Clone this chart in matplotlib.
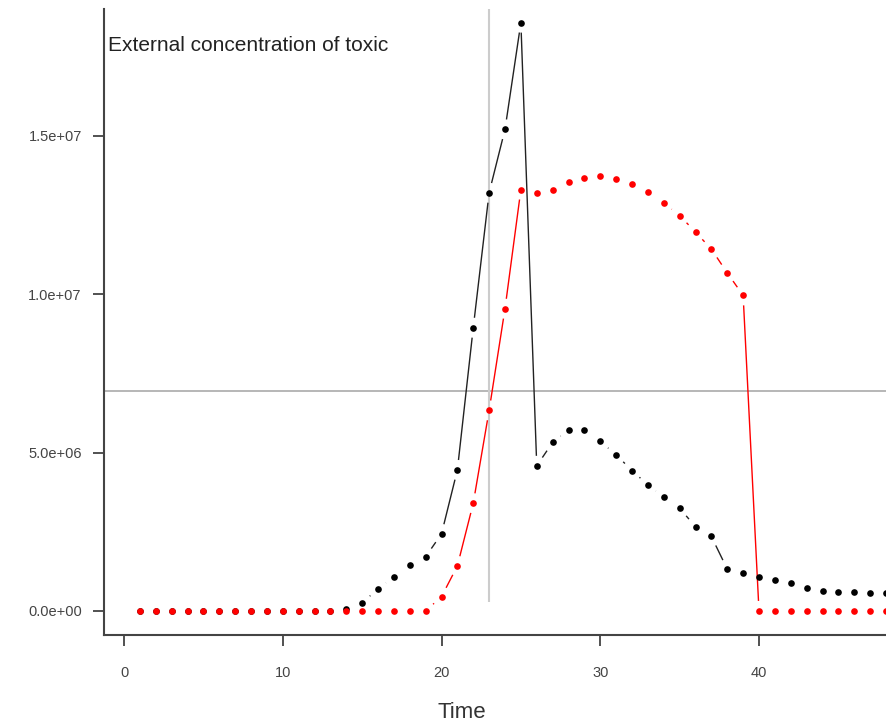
import matplotlib
matplotlib.use('Agg')
import matplotlib.pyplot as plt
import numpy as np
from matplotlib.collections import LineCollection

plt.rcParams['font.family'] = ['Liberation Sans', 'DejaVu Sans']

time = np.arange(1, 49)
# black series (external concentration)
black = [0, 0, 0, 0, 0, 0, 0, 0, 0, 0, 0, 0, 0, 0.07e6,
         0.26e6, 0.69e6, 1.08e6, 1.44e6, 1.71e6, 2.43e6, 4.45e6, 8.94e6,
         13.2e6, 15.2e6, 18.57e6, 4.58e6, 5.32e6, 5.72e6, 5.72e6, 5.35e6,
         4.93e6, 4.43e6, 3.98e6, 3.59e6, 3.24e6, 2.66e6, 2.35e6, 1.32e6,
         1.19e6, 1.08e6, 0.98e6, 0.87e6, 0.72e6, 0.64e6, 0.60e6, 0.60e6,
         0.56e6, 0.55e6]
# red series
red = [0, 0, 0, 0, 0, 0, 0, 0, 0, 0, 0, 0, 0, 0, 0, 0, 0, 0, 0,
       0.45e6, 1.42e6, 3.40e6, 6.33e6, 9.54e6, 13.3e6, 13.19e6, 13.3e6,
       13.53e6, 13.67e6, 13.72e6, 13.64e6, 13.49e6, 13.21e6, 12.88e6,
       12.48e6, 11.96e6, 11.42e6, 10.67e6, 9.96e6,
       0, 0, 0, 0, 0, 0, 0, 0, 0]
vline_x = 23
hline_y = 6.95e6
yticks = [0, 5e6, 1e7, 1.5e7]
ytick_labels = ['0.0e+00', '5.0e+06', '1.0e+07', '1.5e+07']
xticks = [0, 10, 20, 30, 40]

W, H = 886, 727
fig = plt.figure(figsize=(W / 100, H / 100), dpi=100)
ax = fig.add_axes([104 / W, 1 - 635 / H, 1 - 104 / W, (635 - 9) / H])
ax.set_xlim(-1.26, 48.0)
ax.set_ylim(-0.76e6, 19.0e6)


def gapped(x, y, gap, **kw):
    # like R type="b": segments with a gap around each point
    pts = ax.transData.transform(np.column_stack([x, y]))
    inv = ax.transData.inverted()
    segs = []
    for p0, p1 in zip(pts[:-1], pts[1:]):
        d = p1 - p0
        L = np.hypot(*d)
        if L > 2 * gap:
            u = d / L
            segs.append(inv.transform(np.array([p0 + u * gap, p1 - u * gap])))
    ax.add_collection(LineCollection(segs, **kw))


ax.axhline(hline_y, color='#aaaaaa', lw=1.2, zorder=1)
ax.vlines(vline_x, 0.28e6, 19.1e6, color='#cccccc', lw=1.5, zorder=1)

gapped(time, black, 10, colors='#222222', linewidths=1.0, zorder=2)
ax.plot(time, black, 'o', color='black', ms=4.8, mew=0, zorder=3, clip_on=False)
gapped(time, red, 10, colors='red', linewidths=1.0, zorder=2)
ax.plot(time, red, 'o', color='red', ms=4.8, mew=0, zorder=4, clip_on=False)

ax.text(0.005, (635 - 45) / 626, 'External concentration of toxic', transform=ax.transAxes,
        fontsize=15, color='#222222', va='center', ha='left')

for s in ['top', 'right']:
    ax.spines[s].set_visible(False)
for s in ['left', 'bottom']:
    ax.spines[s].set_color('#444444')
    ax.spines[s].set_linewidth(1.5)

ax.set_yticks(yticks)
ax.set_yticklabels(ytick_labels)
ax.set_xticks(xticks)
ax.tick_params(axis='both', direction='out', length=8, width=1.2, color='#333333',
               labelsize=10.5, labelcolor='#444444', pad=8)
ax.tick_params(axis='x', pad=14)
ax.set_xlabel('Time', fontsize=16, color='#333333')
ax.xaxis.set_label_coords((462 - 104) / (W - 104), -(713 - 635) / (635 - 9))
ax.xaxis.label.set_va('center')

fig.savefig('out.png', dpi=100)
